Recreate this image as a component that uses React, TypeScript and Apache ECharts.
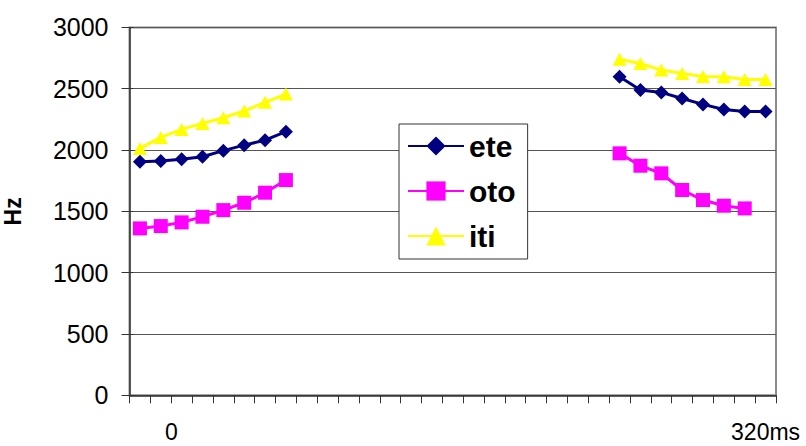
import React, { useEffect, useRef } from "react";
import * as echarts from "echarts";

const xLabels: string[] = [
  "", "0", "", "", "", "", "", "", "", "", "",
  "", "", "", "", "", "", "", "", "", "",
  "", "", "", "", "", "", "", "", "", "320ms",
];

const seriesNames = ["ete", "oto", "iti"];

// left group (categories 0..7), right group (categories 23..30)
const eteLeft = [1905, 1910, 1925, 1945, 1995, 2040, 2080, 2150];
const eteRight = [2597, 2490, 2470, 2420, 2372, 2331, 2315, 2315];
const otoLeft = [1361, 1380, 1410, 1456, 1510, 1570, 1652, 1755];
const otoRight = [1973, 1872, 1810, 1674, 1592, 1546, 1524];
const itiLeft = [2013, 2103, 2168, 2217, 2263, 2318, 2389, 2456];
const itiRight = [2741, 2706, 2652, 2625, 2600, 2597, 2576, 2576];

const yTicks = [0, 500, 1000, 1500, 2000, 2500, 3000];

const GAP = 15;

function build(left: number[], right: number[]): (number | null)[] {
  const out: (number | null)[] = [...left];
  for (let i = 0; i < GAP; i++) out.push(null);
  out.push(...right);
  while (out.length < xLabels.length) out.push(null);
  return out;
}

export default function App() {
  const ref = useRef<HTMLDivElement>(null);
  useEffect(() => {
    if (!ref.current) return;
    const chart = echarts.init(ref.current, null, { renderer: "svg" });
    const font = "'Liberation Sans', Arial, sans-serif";
    const yMin = yTicks[0];
    const yMax = yTicks[yTicks.length - 1];
    const yInt = yTicks[1] - yTicks[0];
    chart.setOption({
      animation: false,
      backgroundColor: "#fff",
      textStyle: { fontFamily: font },
      grid: {
        left: 129.5,
        right: 30,
        top: 27.4,
        bottom: 50.7,
        show: true,
        borderColor: "#8c8c8c",
        borderWidth: 2,
        containLabel: false,
        outerBoundsMode: "none",
      },
      legend: {
        orient: "vertical",
        left: 399,
        top: 124,
        padding: [6, 12, 7, 8],
        itemGap: 13,
        itemWidth: 56,
        itemHeight: 24,
        borderColor: "#333",
        borderWidth: 1,
        backgroundColor: "#fff",
        data: seriesNames,
        textStyle: {
          fontFamily: font,
          fontWeight: "bold",
          fontSize: 30,
          lineHeight: 32,
          color: "#000",
        },
      },
      xAxis: {
        type: "category",
        data: xLabels,
        boundaryGap: true,
        axisLine: { lineStyle: { color: "#333", width: 1.5 } },
        axisTick: { show: true, interval: 0, length: 8, lineStyle: { color: "#333" } },
        axisLabel: {
          interval: 0,
          margin: 27,
          fontSize: 23,
          lineHeight: 20,
          color: "#000",
          fontFamily: font,
          formatter: (v: string) => (v === "0" ? "{z|" + v + "}" : v),
          rich: {
            z: {
              fontSize: 23,
              lineHeight: 20,
              color: "#000",
              fontFamily: font,
              padding: [0, 0, 0, 21],
            },
          },
        },
        splitLine: { show: false },
      },
      yAxis: [
        {
          type: "value",
          min: yMin,
          max: yMax,
          interval: yInt,
          name: "Hz",
          nameLocation: "middle",
          nameRotate: 90,
          nameGap: 106,
          nameTextStyle: {
            fontSize: 23,
            lineHeight: 22,
            fontWeight: "bold",
            color: "#000",
            fontFamily: font,
          },
          axisLine: { show: true, lineStyle: { color: "#333", width: 1.5 } },
          axisTick: { show: true, length: 8, lineStyle: { color: "#333" } },
          axisLabel: {
            margin: 21,
            fontSize: 25,
            color: "#000",
            fontFamily: font,
            formatter: (v: number) => String(v),
          },
          splitLine: { show: true, lineStyle: { color: "#555", width: 1 } },
        },
        {
          type: "value",
          min: yMin,
          max: yMax,
          interval: yInt,
          position: "left",
          axisLine: { show: false },
          axisTick: { show: true, inside: true, length: 4, lineStyle: { color: "#333" } },
          axisLabel: { show: false },
          splitLine: { show: false },
        },
      ],
      series: [
        {
          name: seriesNames[0],
          type: "line",
          data: build(eteLeft, eteRight),
          connectNulls: false,
          symbol: "diamond",
          symbolSize: 14,
          color: "#000080",
          lineStyle: { color: "#000080", width: 3 },
          itemStyle: { color: "#000080" },
        },
        {
          name: seriesNames[1],
          type: "line",
          data: build(otoLeft, otoRight),
          connectNulls: false,
          symbol: "rect",
          symbolSize: 14,
          color: "#ff00ff",
          lineStyle: { color: "#ff00ff", width: 3 },
          itemStyle: { color: "#ff00ff" },
        },
        {
          name: seriesNames[2],
          type: "line",
          data: build(itiLeft, itiRight),
          connectNulls: false,
          symbol: "triangle",
          symbolSize: [14, 13],
          color: "#ffff00",
          lineStyle: { color: "#ffff00", width: 3 },
          itemStyle: { color: "#ffff00" },
        },
      ],
    });
    return () => chart.dispose();
  }, []);
  return <div ref={ref} style={{ width: 806, height: 446, position: "fixed", left: 0, top: 0 }} />;
}
